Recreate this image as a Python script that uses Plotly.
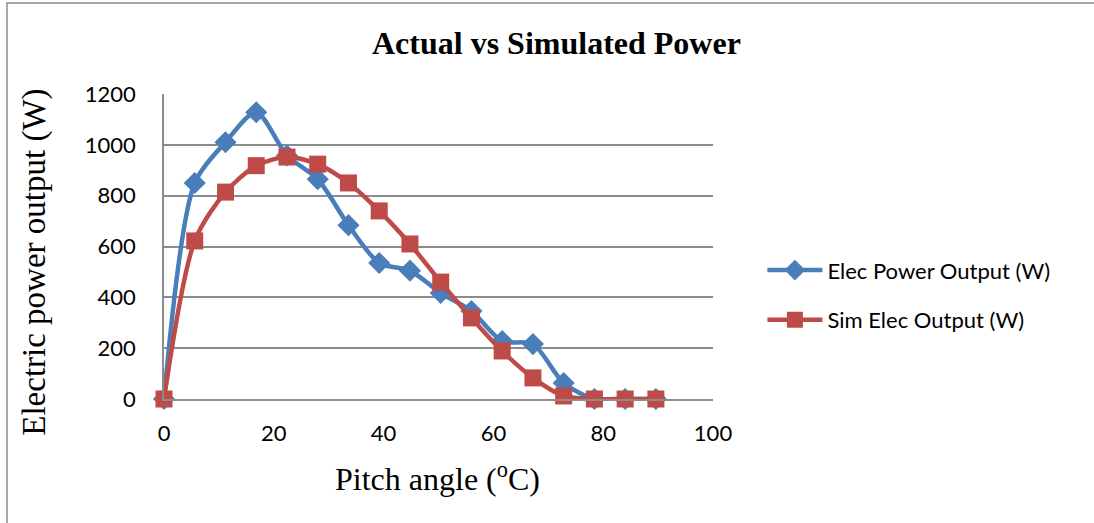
import plotly.graph_objects as go

pitch = [0, 5.6, 11.2, 16.8, 22.4, 28, 33.6, 39.2, 44.8, 50.4, 56, 61.6, 67.2, 72.8, 78.4, 84, 89.6]
elec_power = [0, 850, 1010, 1128, 958, 865, 684, 535, 505, 417, 346, 228, 216, 63, 0, 0, 0]
sim_power = [0, 622, 814, 918, 952, 924, 850, 740, 610, 460, 319, 189, 83, 12, 0, 0, 0]

BLUE = "#4a7ebb"
RED = "#be4b48"
GRID = "#8c8c8c"

fig = go.Figure()
fig.add_trace(go.Scatter(
    x=pitch, y=elec_power, name="Elec Power Output (W)",
    mode="lines+markers", cliponaxis=False, legendgroup="a",
    line=dict(color=BLUE, width=4.5, shape="spline", smoothing=0.8),
    marker=dict(symbol="diamond", size=17, color=BLUE),
))
fig.add_trace(go.Scatter(
    x=pitch, y=sim_power, name="Sim Elec Output (W)",
    mode="lines+markers", cliponaxis=False, legendgroup="b",
    line=dict(color=RED, width=4.5, shape="spline", smoothing=0.8),
    marker=dict(symbol="square", size=17, color=RED),
))

fig.update_layout(
    width=1094, height=523,
    margin=dict(l=164, r=381, t=94, b=124),
    paper_bgcolor="white", plot_bgcolor="white",
    showlegend=True,
    legend=dict(x=1.09, y=0.34, xanchor="left", yanchor="middle",
                font=dict(family="Lato", size=22, color="black"),
                traceorder="grouped", tracegroupgap=18, itemwidth=55),
    font=dict(family="Lato", size=22, color="black"),
)
fig.update_xaxes(range=[0, 100], dtick=20, tick0=0, showgrid=False,
                 showline=True, linecolor=GRID, linewidth=1.5,
                 zeroline=False, ticks="", ticklabelstandoff=14,
                 tickfont=dict(family="Lato", size=22, color="black"))
fig.update_yaxes(range=[0, 1200], dtick=200, tick0=0, showgrid=True,
                 gridcolor=GRID, gridwidth=1.5,
                 showline=True, linecolor=GRID, linewidth=1.5,
                 zeroline=False, ticks="", ticklabelstandoff=22,
                 tickfont=dict(family="Lato", size=22, color="black"))

fig.add_annotation(text="<b>Actual vs Simulated Power</b>", xref="paper", yref="paper",
                   x=0.715, y=1.167, showarrow=False, xanchor="center", yanchor="middle",
                   font=dict(family="Liberation Serif", size=32, color="black"))
fig.add_annotation(text="Electric power output (W)", xref="paper", yref="paper",
                   x=-0.235, y=0.45, showarrow=False, textangle=-90,
                   xanchor="center", yanchor="middle",
                   font=dict(family="Liberation Serif", size=33, color="black"))
fig.add_annotation(text="Pitch angle (<sup>o</sup>C)", xref="paper", yref="paper",
                   x=0.499, y=-0.256, showarrow=False, xanchor="center", yanchor="middle",
                   font=dict(family="Liberation Serif", size=32, color="black"))

fig.add_shape(type="rect", xref="paper", yref="paper",
              x0=-0.286, x1=1.72, y0=-0.45, y1=1.298,
              line=dict(color="#8c8c8c", width=1.5), fillcolor="rgba(0,0,0,0)", layer="below")

fig.write_html("out.html")
